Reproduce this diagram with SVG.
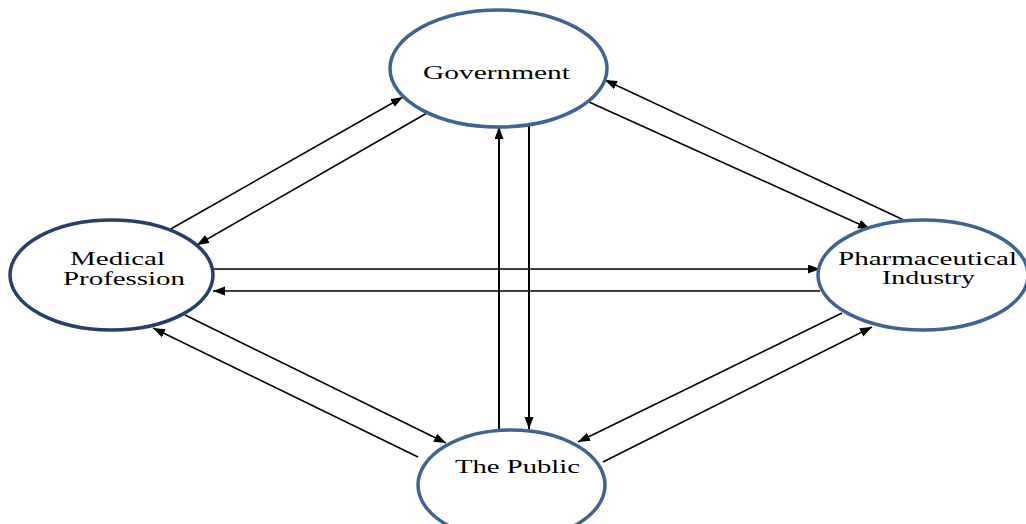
<svg xmlns="http://www.w3.org/2000/svg" width="1026" height="524" viewBox="0 0 1026 524">
  <style>
    .node { fill: #ffffff; stroke: #3d6494; stroke-width: 3.5; }
    .node.dark { stroke: #26406a; }
    .label { font-family: "Liberation Serif", "Times New Roman", serif; font-size: 19px; fill: #000000; }
    .link { stroke: #000000; stroke-width: 1.5; fill: none; marker-end: url(#head); }
    .link.v { stroke-width: 2; }
  </style>
  <defs>
    <marker id="head" markerUnits="userSpaceOnUse" markerWidth="13" markerHeight="10" refX="12" refY="4.5" orient="auto">
      <path d="M0,0 L12,4.5 L0,9 z" fill="#000000"/>
    </marker>
  </defs>
  <rect width="1026" height="524" fill="#ffffff"/>

  <g id="connectors">
    <!-- Medical Profession <-> Government -->
    <line class="link" x1="169" y1="230" x2="403" y2="97"/>
    <line class="link" x1="427" y1="113" x2="197" y2="245"/>
    <!-- Government <-> Pharmaceutical Industry -->
    <line class="link" x1="589" y1="102" x2="870" y2="229"/>
    <line class="link" x1="908" y1="222" x2="605" y2="80"/>
    <!-- Medical Profession <-> Pharmaceutical Industry -->
    <line class="link" x1="213" y1="269" x2="820" y2="269"/>
    <line class="link" x1="820" y1="291" x2="213" y2="291"/>
    <!-- The Public <-> Government -->
    <line class="link v" x1="499" y1="432" x2="499" y2="127"/>
    <line class="link v" x1="529" y1="125" x2="529" y2="429"/>
    <!-- Medical Profession <-> The Public -->
    <line class="link" x1="185" y1="315" x2="446" y2="443"/>
    <line class="link" x1="418" y1="457" x2="153" y2="328"/>
    <!-- Pharmaceutical Industry <-> The Public -->
    <line class="link" x1="842" y1="313" x2="578" y2="442"/>
    <line class="link" x1="603" y1="462" x2="872" y2="327"/>
  </g>

  <g id="government">
    <ellipse class="node" cx="498.5" cy="68.5" rx="108.5" ry="58.5"/>
    <text class="label" x="423" y="79" textLength="147" lengthAdjust="spacingAndGlyphs">Government</text>
  </g>

  <g id="medical-profession">
    <ellipse class="node dark" cx="111.5" cy="275" rx="101.5" ry="55"/>
    <text class="label" x="70" y="265" textLength="95" lengthAdjust="spacingAndGlyphs">Medical</text>
    <text class="label" x="63" y="285" textLength="122" lengthAdjust="spacingAndGlyphs">Profession</text>
  </g>

  <g id="pharmaceutical-industry">
    <ellipse class="node" cx="923" cy="275" rx="105" ry="55"/>
    <text class="label" x="838" y="265" textLength="179" lengthAdjust="spacingAndGlyphs">Pharmaceutical</text>
    <text class="label" x="882" y="284" textLength="93" lengthAdjust="spacingAndGlyphs">Industry</text>
  </g>

  <g id="the-public">
    <ellipse class="node" cx="511.5" cy="485" rx="93.5" ry="55"/>
    <text class="label" x="455" y="473" textLength="125" lengthAdjust="spacingAndGlyphs">The Public</text>
  </g>
</svg>
